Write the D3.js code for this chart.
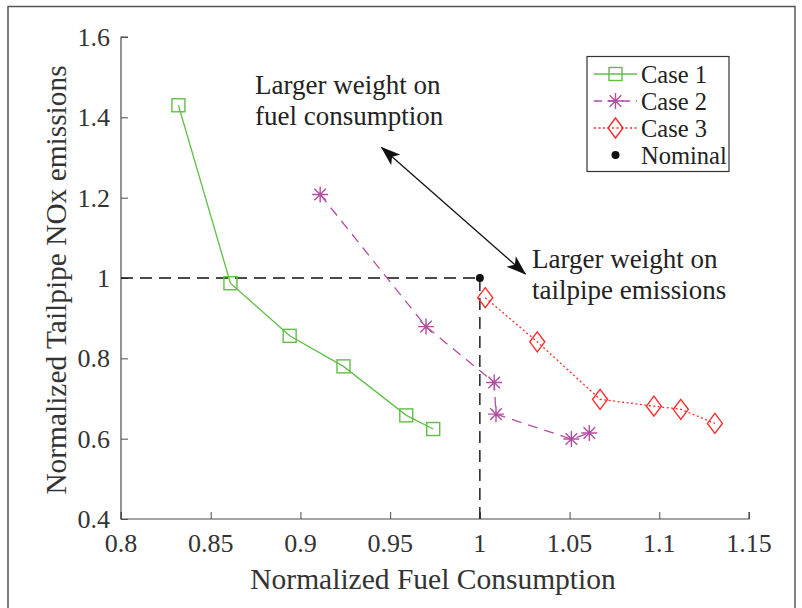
<!DOCTYPE html>
<html><head><meta charset="utf-8">
<script src="https://cdn.jsdelivr.net/npm/d3@7"></script>
</head><body style="margin:0">
<svg id="c" width="802" height="608"></svg>
<script>
const xTicks = [0.8, 0.85, 0.9, 0.95, 1, 1.05, 1.1, 1.15];
const yTicks = [0.4, 0.6, 0.8, 1, 1.2, 1.4, 1.6];
const case1X = [0.832, 0.861, 0.894, 0.924, 0.959, 0.974];
const case1Y = [1.430, 0.987, 0.856, 0.780, 0.658, 0.624];
const case2X = [0.911, 0.970, 1.008, 1.009, 1.051, 1.061];
const case2Y = [1.208, 0.879, 0.740, 0.661, 0.599, 0.614];
const case3X = [1.003, 1.032, 1.067, 1.097, 1.112, 1.131];
const case3Y = [0.951, 0.841, 0.698, 0.681, 0.673, 0.638];
const nominal = [1, 1];
const legendLabels = ["Case 1", "Case 2", "Case 3", "Nominal"];
const annot1 = ["Larger weight on", "fuel consumption"];
const annot2 = ["Larger weight on", "tailpipe emissions"];
const arrowFrom = [0.9452, 1.325];
const arrowTo = [1.0254, 1.010];

const FONT = '"Liberation Serif", "Tinos", "Times New Roman", monospace';
const svg = d3.select("#c");
const M = {l:121, r:749, t:37, b:519};
const x = d3.scaleLinear().domain([0.8, 1.15]).range([M.l, M.r]);
const y = d3.scaleLinear().domain([0.4, 1.6]).range([M.b, M.t]);
const axCol = "#4d4d4d";
const green = "#5fbf45", mag = "#b44ea0", red = "#ff2a2a";

function txt(parent){ return parent.append("text").attr("font-family", FONT); }

// outer frame
svg.append("rect").attr("x",8).attr("y",6.5).attr("width",787).attr("height",610)
  .attr("fill","none").attr("stroke","#555").attr("stroke-width",1.5);

// axes (lines via d3.axis, labels drawn as own text)
const fmt = d => String(+d.toFixed(2));
const gx = svg.append("g").attr("transform",`translate(0,${M.b})`)
  .call(d3.axisBottom(x).tickValues(xTicks).tickSize(-7).tickFormat(""));
const gy = svg.append("g").attr("transform",`translate(${M.l},0)`)
  .call(d3.axisLeft(y).tickValues(yTicks).tickSize(-7).tickFormat(""));
[gx, gy].forEach(g => {
  g.select(".domain").attr("stroke",axCol).attr("stroke-width",1.2);
  g.selectAll(".tick line").attr("stroke",axCol).attr("stroke-width",1);
  g.selectAll(".tick text").remove();
});
gx.select(".domain").attr("d",`M${M.l},-7V0H${M.r}V-7`);
gy.select(".domain").attr("d",`M-0,${M.b}H0V${M.t}H7`);
xTicks.forEach(v => txt(svg).attr("x", x(v)).attr("y", M.b + 33).attr("text-anchor","middle")
  .attr("font-size","26px").attr("fill","#333").text(fmt(v)));
yTicks.forEach(v => txt(svg).attr("x", M.l - 11).attr("y", y(v) + 9).attr("text-anchor","end")
  .attr("font-size","26px").attr("fill","#333").text(fmt(v)));

// axis labels
txt(svg).attr("x",(M.l+M.r)/2 - 2).attr("y",589).attr("text-anchor","middle")
  .attr("font-size","29.5px").attr("fill","#333")
  .text("Normalized Fuel Consumption");
txt(svg).attr("transform",`translate(66,${(M.t+M.b)/2 + 2}) rotate(-90)`)
  .attr("text-anchor","middle").attr("font-size","29.4px").attr("fill","#333")
  .text("Normalized Tailpipe NOx emissions");

// reference dashed lines
svg.append("path").attr("d",`M${x(0.8)},${y(1)}H${x(nominal[0])}`)
  .attr("stroke","#111").attr("stroke-width",1.4).attr("stroke-dasharray","12,7").attr("fill","none");
svg.append("path").attr("d",`M${x(nominal[0])},${y(0.4)}V${y(nominal[1])}`)
  .attr("stroke","#111").attr("stroke-width",1.4).attr("stroke-dasharray","12,7").attr("fill","none");

const line = d3.line().x(d=>x(d[0])).y(d=>y(d[1]));
const zip = (a,b) => a.map((v,i)=>[v,b[i]]);
const d1 = zip(case1X, case1Y), d2 = zip(case2X, case2Y), d3v = zip(case3X, case3Y);

function drawSquare(g, cx, cy){ g.append("rect").attr("x",cx-6.5).attr("y",cy-6.5).attr("width",13).attr("height",13)
  .attr("fill","none").attr("stroke",green).attr("stroke-width",1.4); }
function drawStar(g, cx, cy){ const r=8, r2=5.8;
  g.append("path").attr("d",`M${cx-r},${cy}H${cx+r}M${cx},${cy-r}V${cy+r}M${cx-r2},${cy-r2}L${cx+r2},${cy+r2}M${cx-r2},${cy+r2}L${cx+r2},${cy-r2}`)
   .attr("stroke",mag).attr("stroke-width",1.4).attr("fill","none"); }
function drawDiamond(g, cx, cy){ const w=7.5, h=10;
  g.append("path").attr("d",`M${cx},${cy-h}L${cx+w},${cy}L${cx},${cy+h}L${cx-w},${cy}Z`)
   .attr("stroke",red).attr("stroke-width",1.4).attr("fill","none"); }

svg.append("path").datum(d1).attr("d",line).attr("stroke",green).attr("stroke-width",1.3).attr("fill","none");
svg.append("path").datum(d2).attr("d",line).attr("stroke",mag).attr("stroke-width",1.3).attr("stroke-dasharray","10,7").attr("fill","none");
svg.append("path").datum(d3v).attr("d",line).attr("stroke",red).attr("stroke-width",1.3).attr("stroke-dasharray","2,2.5").attr("fill","none");
const gm = svg.append("g");
d1.forEach(d=>drawSquare(gm, x(d[0]), y(d[1])));
d2.forEach(d=>drawStar(gm, x(d[0]), y(d[1])));
d3v.forEach(d=>drawDiamond(gm, x(d[0]), y(d[1])));
svg.append("circle").attr("cx",x(nominal[0])).attr("cy",y(nominal[1])).attr("r",4).attr("fill","#111");

// arrow
const defs = svg.append("defs");
defs.append("marker").attr("id","ah").attr("viewBox","0 0 20 14").attr("refX",19).attr("refY",7)
  .attr("markerWidth",20).attr("markerHeight",14).attr("markerUnits","userSpaceOnUse").attr("orient","auto-start-reverse")
  .append("path").attr("d","M0,0L20,7L0,14L5,7Z").attr("fill","#111");
svg.append("line").attr("x1",x(arrowFrom[0])).attr("y1",y(arrowFrom[1])).attr("x2",x(arrowTo[0])).attr("y2",y(arrowTo[1]))
  .attr("stroke","#111").attr("stroke-width",1.3).attr("marker-start","url(#ah)").attr("marker-end","url(#ah)");

// annotations
function annot(lines, tx, ty){
  lines.forEach((s,i)=> txt(svg).attr("x",tx).attr("y",ty+i*31).attr("font-size","27px").attr("fill","#222").text(s));
}
annot(annot1, 255, 94);
annot(annot2, 532, 268);

// legend
const lg = svg.append("g");
lg.append("rect").attr("x",587).attr("y",56.5).attr("width",142).attr("height",115)
  .attr("fill","#fff").attr("stroke","#333").attr("stroke-width",1.2);
const ly = [74, 101, 128, 155];
lg.append("line").attr("x1",594).attr("x2",637).attr("y1",ly[0]).attr("y2",ly[0]).attr("stroke",green).attr("stroke-width",1.3);
drawSquare(lg, 615.5, ly[0]);
lg.append("line").attr("x1",594).attr("x2",637).attr("y1",ly[1]).attr("y2",ly[1]).attr("stroke",mag).attr("stroke-width",1.3).attr("stroke-dasharray","8,6");
drawStar(lg, 615.5, ly[1]);
lg.append("line").attr("x1",594).attr("x2",637).attr("y1",ly[2]).attr("y2",ly[2]).attr("stroke",red).attr("stroke-width",1.3).attr("stroke-dasharray","2,2.5");
drawDiamond(lg, 615.5, ly[2]);
lg.append("circle").attr("cx",615.5).attr("cy",ly[3]).attr("r",4).attr("fill","#111");
legendLabels.forEach((s,i)=> txt(lg).attr("x",641).attr("y",ly[i] + 8.5)
  .attr("font-size","24.5px").attr("fill","#222").text(s));
</script>
</body></html>
